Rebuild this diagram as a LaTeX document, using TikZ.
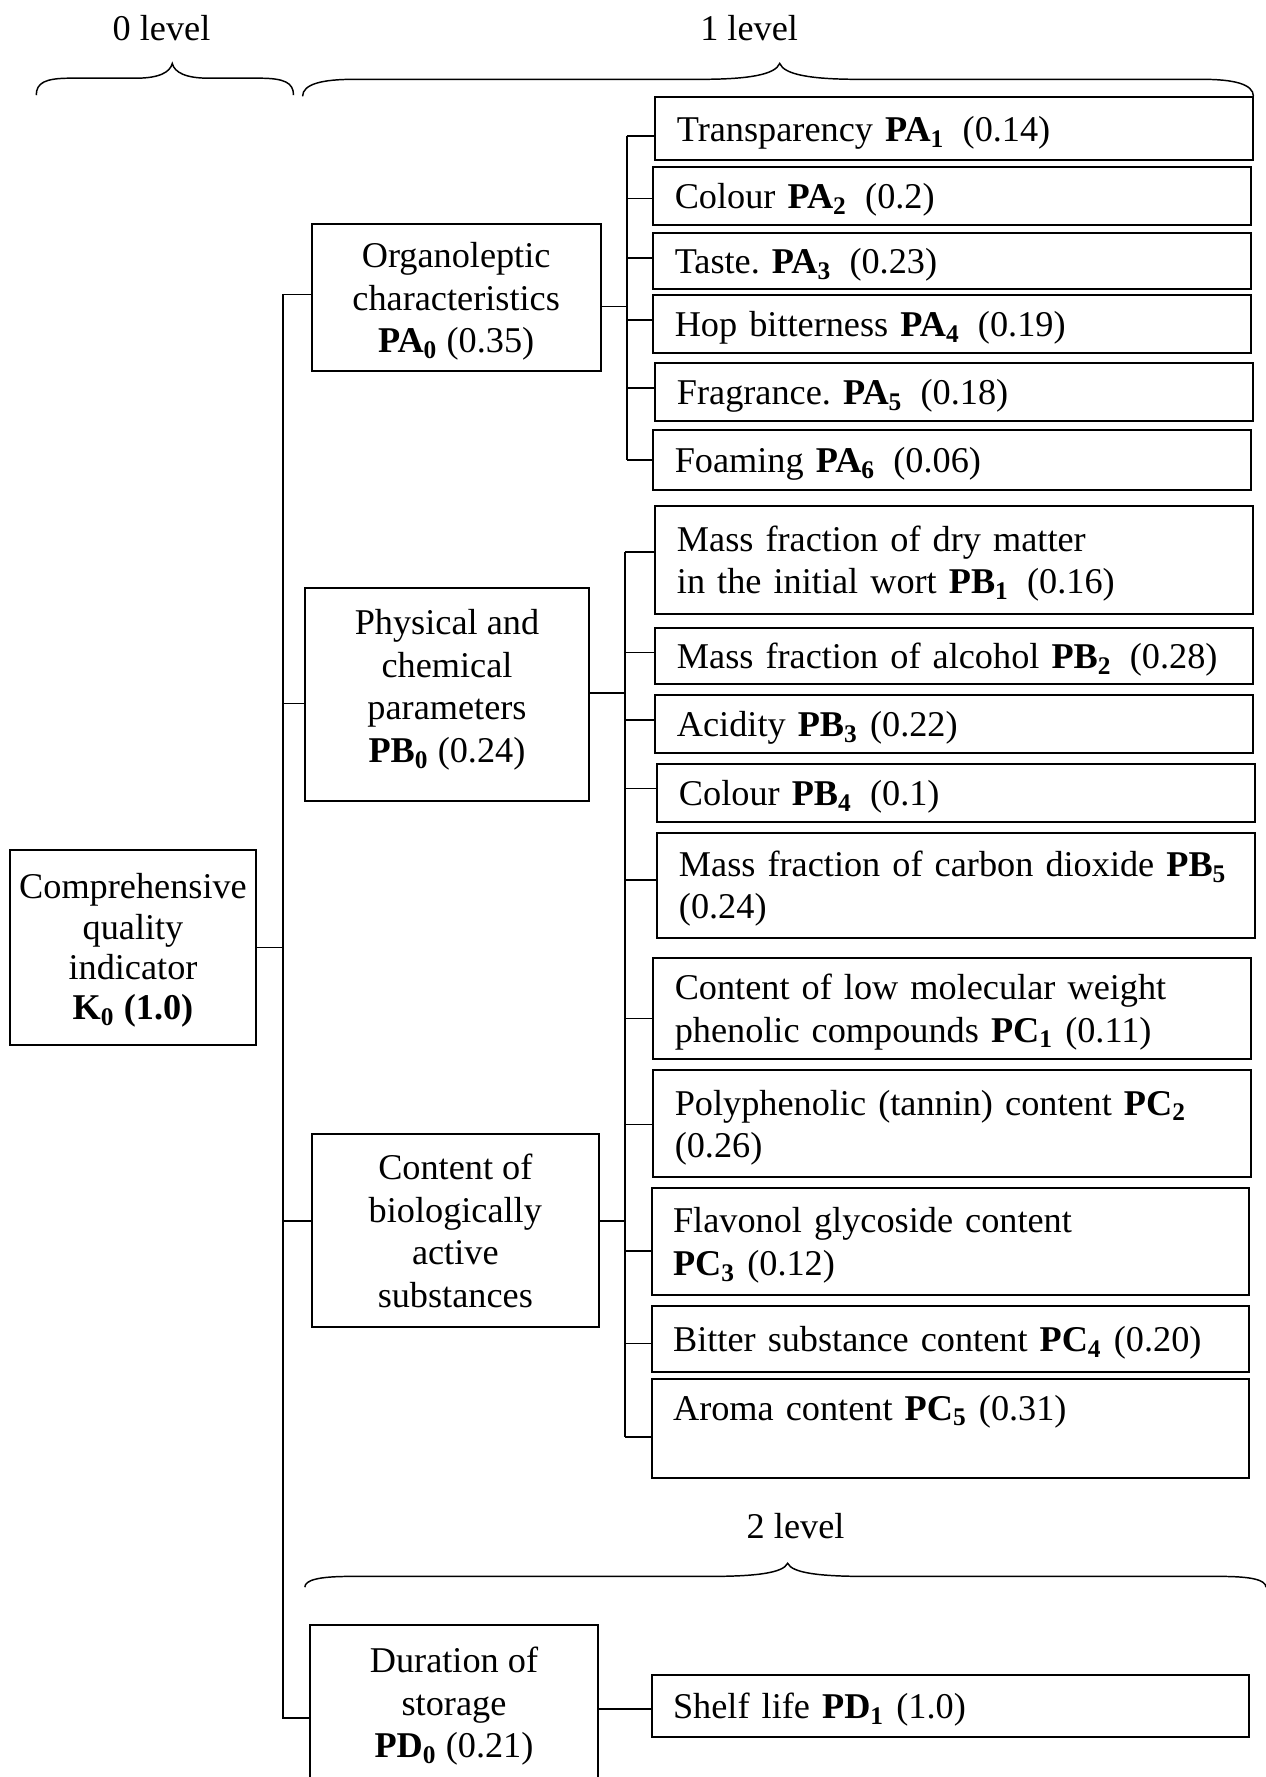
\documentclass[tikz,border=0pt]{standalone}
\usepackage{fontspec}
\setmainfont{Liberation Serif}
\frenchspacing
\newcommand{\boxfont}{\fontsize{16.0pt}{18.75pt}\selectfont\frenchspacing}
\newcommand{\rootfont}{\fontsize{16.0pt}{17.8pt}\selectfont\frenchspacing}
\newcommand{\mystrut}{\rule[-3.85pt]{0pt}{18.75pt}}
\newcommand{\highstrut}{\rule[-7.4pt]{0pt}{18.75pt}}
\newcommand{\rootstrut}{\rule[-3.6pt]{0pt}{17.8pt}}
\newcommand{\bsub}[2]{\textbf{#1\textsubscript{#2}}}
\newcommand{\oneline}[1]{\mbox{\mystrut#1}}
\begin{document}
\begin{tikzpicture}[x=0.5pt,y=-0.5pt,
  box/.style={draw, line width=0.9pt, inner sep=0pt, font=\boxfont},
  leaf/.style={box, anchor=north west, minimum width=263.75pt, text width=244.75pt, inner xsep=9.5pt, inner ysep=0pt, align=left},
  midbox/.style={box, align=center},
  conn/.style={line width=0.7pt},
  lvl/.style={font=\boxfont, inner sep=0pt},
  bracestyle/.style={line width=0.65pt}]
\useasboundingbox (0,0) rectangle (1117,1568);
\fill[white] (0,0) rectangle (1117,1568);

% level labels
\node[lvl] (lv0) at (142.5,25) {0 level};
\node[lvl] (lv1) at (661,25) {1 level};
\node[lvl] (lv2) at (702,1347) {2 level};

% braces
\draw[bracestyle] (32,84) .. controls (32,73) and (40,69) .. (62,69) -- (120,69)
  .. controls (140,69) and (150,64) .. (152,56) .. controls (154,64) and (164,69) .. (184,69)
  -- (229,69) .. controls (251,69) and (259,73) .. (259,84);
\draw[bracestyle] (267,85) .. controls (267,74) and (285,70) .. (312,70) -- (618,70)
  .. controls (660,70) and (684,66) .. (688,56) .. controls (692,66) and (716,70) .. (758,70)
  -- (1061,70) .. controls (1088,70) and (1106,74) .. (1106,85);
\draw[bracestyle] (269,1400.5) .. controls (269,1394) and (282,1391) .. (309,1391) -- (625,1391)
  .. controls (667,1391) and (691,1388) .. (695,1379.4) .. controls (699,1388) and (723,1391) .. (765,1391)
  -- (1077,1391) .. controls (1104,1391) and (1117,1394) .. (1117,1400.5);

% root and level-1 boxes
\node[midbox, font=\rootfont, minimum width=108.55pt, minimum height=86pt] (root) at (117.35,836)
  {\rootstrut Comprehensive\\\rootstrut quality\\\rootstrut indicator\\\rootstrut\textbf{K\textsubscript{0} (1.0)}};
\node[midbox, minimum width=127.5pt, minimum height=64.85pt] (pa0) at (402.5,262.5)
  {\mystrut Organoleptic\\\mystrut characteristics\\\mystrut\bsub{PA}{0} (0.35)};
\node[midbox, minimum width=125.35pt, minimum height=94.1pt] (pb0) at (394.4,612.6)
  {\highstrut Physical and\\\highstrut chemical\\\highstrut parameters\\\highstrut\bsub{PB}{0} (0.24)};
\node[midbox, minimum width=126.75pt, minimum height=85.25pt] (pc0) at (401.75,1086)
  {\mystrut Content of\\\mystrut biologically\\\mystrut active\\\mystrut substances};
\node[midbox, minimum width=127.1pt, minimum height=68.5pt] (pd0) at (400.6,1502.5)
  {\mystrut Duration of\\\mystrut storage\\\mystrut\bsub{PD}{0} (0.21)};

% PA leaves
\node[leaf, minimum height=27.8pt] (pa1) at (577.4,85) {\oneline{Transparency \bsub{PA}{1}\enspace(0.14)}};
\node[leaf, minimum height=25.55pt] (pa2) at (575.5,146.5) {\oneline{Colour \bsub{PA}{2}\enspace(0.2)}};
\node[leaf, minimum height=25pt] (pa3) at (575.5,204.4) {\oneline{Taste. \bsub{PA}{3}\enspace(0.23)}};
\node[leaf, minimum height=25.3pt] (pa4) at (575.5,259.7) {\oneline{Hop bitterness \bsub{PA}{4}\enspace(0.19)}};
\node[leaf, minimum height=25.75pt] (pa5) at (577.4,319.1) {\oneline{Fragrance. \bsub{PA}{5}\enspace(0.18)}};
\node[leaf, minimum height=26.45pt] (pa6) at (575.5,378.8) {\oneline{Foaming \bsub{PA}{6}\enspace(0.06)}};

% PB leaves
\node[leaf, minimum height=47.75pt] (pb1) at (577.4,445.6) {\oneline{Mass fraction of dry matter}\\\oneline{in the initial wort \bsub{PB}{1}\enspace(0.16)}};
\node[leaf, minimum height=24.7pt] (pb2) at (577.4,552.9) {\oneline{Mass fraction of alcohol \bsub{PB}{2}\enspace(0.28)}};
\node[leaf, minimum height=25.3pt] (pb3) at (577.4,612.6) {\oneline{Acidity \bsub{PB}{3} (0.22)}};
\node[leaf, minimum height=25.3pt] (pb4) at (579.2,673.5) {\oneline{Colour \bsub{PB}{4}\enspace(0.1)}};
\node[leaf, minimum height=46.3pt] (pb5) at (579.2,733.8) {\oneline{Mass fraction of carbon dioxide \bsub{PB}{5}}\\\oneline{(0.24)}};

% PC leaves
\node[leaf, minimum height=44.6pt] (pc1) at (575.5,844.2) {\oneline{Content of low molecular weight}\\\oneline{phenolic compounds \bsub{PC}{1} (0.11)}};
\node[leaf, minimum height=47.3pt] (pc2) at (575.5,943.4) {\oneline{Polyphenolic (tannin) content \bsub{PC}{2}}\\\oneline{(0.26)}};
\node[leaf, minimum height=47.35pt] (pc3) at (574,1047.3) {\oneline{Flavonol glycoside content}\\\oneline{\bsub{PC}{3} (0.12)}};
\node[leaf, minimum height=29.15pt] (pc4) at (574,1151.4) {\oneline{Bitter substance content \bsub{PC}{4} (0.20)}};
\node[leaf, minimum height=43.8pt] (pc5) at (574,1216) {\oneline{Aroma content \bsub{PC}{5} (0.31)}\\\oneline{}};

% PD leaf
\node[leaf, minimum height=27.2pt] (pd1) at (574,1477) {\oneline{Shelf life \bsub{PD}{1} (1.0)}};

% trunk
\coordinate (tA) at (249.5,259.7);
\coordinate (tB) at (249.5,620.6);
\coordinate (tC) at (249.5,1077.3);
\coordinate (tD) at (249.5,1515.8);
\coordinate (tK) at (249.5,836);
\draw[conn] (pa0.west |- tA) -- (tA) -- (tD) -- (tD -| pd0.west);
\draw[conn] (root.east) -- (root.east -| tK);
\draw[conn] (tB) -- (tB -| pb0.west);
\draw[conn] (tC) -- (tC -| pc0.west);

% PA bar
\coordinate (a0) at (553,270.6);
\coordinate (a1) at (553,120);
\coordinate (a2) at (553,175);
\coordinate (a3) at (553,227.9);
\coordinate (a4) at (553,282.3);
\coordinate (a5) at (553,342.6);
\coordinate (a6) at (553,405.9);
\draw[conn] (a0 -| pa0.east) -- (a0);
\draw[conn] (a1) -- (a6);
\foreach \i in {1,...,6} {\draw[conn] (a\i) -- (a\i -| pa\i.west);}

% PB / PC bar
\coordinate (b0) at (551.4,611.7);
\coordinate (b1) at (551.4,487.3);
\coordinate (b2) at (551.4,575.9);
\coordinate (b3) at (551.4,635.3);
\coordinate (b4) at (551.4,695.6);
\coordinate (b5) at (551.4,776.4);
\coordinate (c0) at (551.4,1077.3);
\coordinate (c1) at (551.4,898.7);
\coordinate (c2) at (551.4,992.3);
\coordinate (c3) at (551.4,1104);
\coordinate (c4) at (551.4,1185.5);
\coordinate (c5) at (551.4,1268);
\draw[conn] (b0 -| pb0.east) -- (b0);
\draw[conn] (c0 -| pc0.east) -- (c0);
\draw[conn] (b1) -- (c5);
\foreach \i in {1,...,5} {\draw[conn] (b\i) -- (b\i -| pb\i.west);}
\foreach \i in {1,...,5} {\draw[conn] (c\i) -- (c\i -| pc\i.west);}

% PD link
\coordinate (d0) at (550,1508);
\draw[conn] (d0 -| pd0.east) -- (d0 -| pd1.west);
\end{tikzpicture}
\end{document}
